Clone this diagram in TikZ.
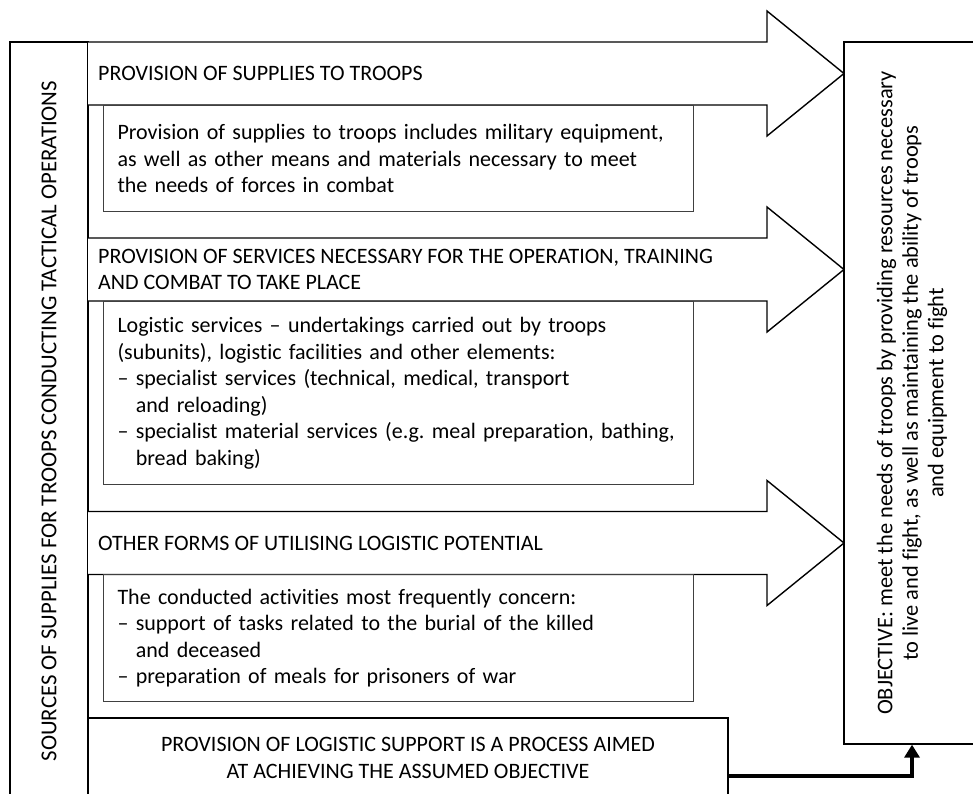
\documentclass[tikz,border=0pt]{standalone}
\usepackage{fontspec}
\setmainfont{Carlito}[Ligatures=NoCommon]
\usetikzlibrary{arrows.meta}

\newcommand{\bodyfont}{\fontsize{22}{26.5}\selectfont}
% one wide arrow, centred on the given height
\newcommand{\supplyarrow}[1]{%
  \path[flow] (88,#1-31.5) -- (767,#1-31.5) -- (767,#1-62.5) -- (844,#1)
    -- (767,#1+62.5) -- (767,#1+31.5) -- (88,#1+31.5);}

\tikzset{
  flow/.style={draw=black,fill=white,line width=1.4pt,line join=miter},
  headtext/.style={anchor=west,align=left,inner xsep=10pt,font=\bodyfont},
  infobox/.style={draw=black!75,line width=1pt,anchor=north west,align=left,
    text width=562pt,inner xsep=14pt,inner ysep=0pt,font=\bodyfont},
  sidebox/.style={draw=black,line width=1.3pt,fill=white,rotate=90,align=center,
    inner sep=0pt,font=\bodyfont},
  aimbox/.style={draw=black,line width=1.3pt,fill=white,align=center,
    inner sep=0pt,font=\bodyfont},
  linkarrow/.style={line width=4.5pt,-{Triangle[width=15pt,length=13pt]}}
}

\begin{document}
\begin{tikzpicture}[x=1pt,y=-1pt]
  \useasboundingbox (0,0) rectangle (973,793);

  \node[sidebox,minimum width=758pt,minimum height=78pt,
    font=\fontsize{22.8}{27}\selectfont] (sources) at (49,421)
    {SOURCES OF SUPPLIES FOR TROOPS CONDUCTING TACTICAL OPERATIONS};

  % the three streams
  \supplyarrow{73.5}
  \supplyarrow{269.5}
  \supplyarrow{543}

  \node[headtext] (supplies) at (88,73.5) {PROVISION OF SUPPLIES TO TROOPS};
  \node[headtext] (services) at (88,269.5)
    {PROVISION OF SERVICES NECESSARY FOR THE OPERATION, TRAINING\\
     AND COMBAT TO TAKE PLACE};
  \node[headtext] (others) at (88,543) {OTHER FORMS OF UTILISING LOGISTIC POTENTIAL};

  \node[infobox,minimum height=106pt] (suppliesinfo) at (103,105)
    {Provision of supplies to troops includes military equipment,\\
     as well as other means and materials necessary to meet\\
     the needs of forces in combat};
  \node[infobox,minimum height=183pt] (servicesinfo) at (103,301)
    {Logistic services – undertakings carried out by troops\\
     (subunits), logistic facilities and other elements:\\
     – specialist services (technical, medical, transport\\
     \hphantom{–\ }and reloading)\\
     – specialist material services (e.g.\ meal preparation, bathing,\\
     \hphantom{–\ }bread baking)};
  \node[infobox,minimum height=127pt] (othersinfo) at (103,574)
    {The conducted activities most frequently concern:\\
     – support of tasks related to the burial of the killed\\
     \hphantom{–\ }and deceased\\
     – preparation of meals for prisoners of war};

  \node[sidebox,minimum width=702pt,minimum height=136pt,
    font=\fontsize{22.4}{25.5}\selectfont] (goal) at (912,393)
    {OBJECTIVE: meet the needs of troops by providing resources necessary\\
     to live and fight, as well as maintaining the ability of troops\\
     and equipment to fight};

  \node[aimbox,minimum width=640pt,minimum height=80pt] (process) at (408,758)
    {PROVISION OF LOGISTIC SUPPORT IS A PROCESS AIMED\\
     AT ACHIEVING THE ASSUMED OBJECTIVE};

  \draw[linkarrow] ([yshift=-18pt]process.east) -| (goal.west);
\end{tikzpicture}
\end{document}
